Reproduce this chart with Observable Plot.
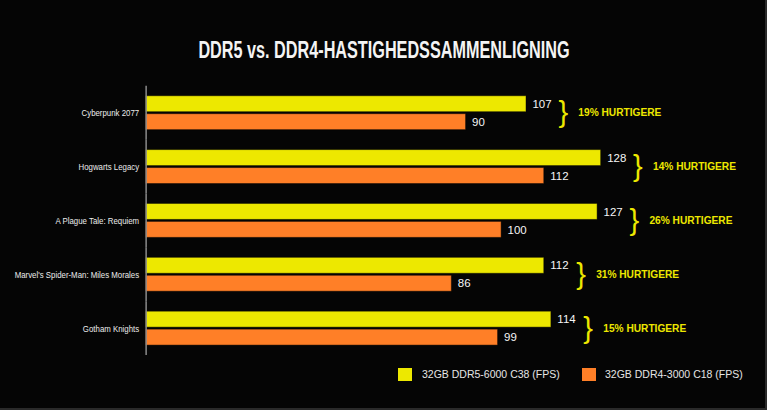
<!DOCTYPE html>
<html>
<head>
<meta charset="utf-8">
<script src="https://cdn.jsdelivr.net/npm/d3@7"></script>
<script src="https://cdn.jsdelivr.net/npm/@observablehq/plot@0.6"></script>
<style>
  html, body { margin: 0; padding: 0; background: #000; }
  #wrap { position: relative; width: 767px; height: 410px; background: #050505; overflow: hidden; box-sizing: border-box; border-right: 2px solid #2a2a2a; border-bottom: 2px solid #2a2a2a; }
  #title { position: absolute; left: 0; width: 767px; top: 39px; text-align: center; color: #f4f4f4;
           font: bold 23.5px/23px "Liberation Sans", Arial, sans-serif; }
  #title span { display: inline-block; transform: scaleX(0.69); transform-origin: center; }
  #chart { position: absolute; left: 0; top: 0; }
  #legend { position: absolute; top: 368px; left: 0; width: 767px; height: 16px;
            font: 10.5px/10.5px "Liberation Sans", Arial, sans-serif; color: #e6e6e6; }
  .sw { position: absolute; width: 14px; height: 13px; top: 0; }
  .lt { position: absolute; top: 1px; white-space: nowrap; }
  g[aria-label="fy-axis tick label"] { font: 9.6px "Liberation Sans", Arial, sans-serif; fill: #ececec; }
</style>
</head>
<body>
<div id="wrap">
  <div id="chart"></div>
  <div id="title"></div>
  <div id="legend"></div>
</div>
<script>
const games = ["Cyberpunk 2077", "Hogwarts Legacy", "A Plague Tale: Requiem", "Marvel's Spider-Man: Miles Morales", "Gotham Knights"];
const ddr5 = [107, 128, 127, 112, 114];
const ddr4 = [90, 112, 100, 86, 99];
const faster = [19, 14, 26, 31, 15];
const seriesNames = ["32GB DDR5-6000 C38 (FPS)", "32GB DDR4-3000 C18 (FPS)"];
const seriesColors = ["#ede800", "#ff7f27"];
const titleText = "DDR5 vs. DDR4-HASTIGHEDSSAMMENLIGNING";
const fasterWord = "HURTIGERE";

const rows = games.flatMap((g, i) => [
  {game: g, series: seriesNames[0], fps: ddr5[i]},
  {game: g, series: seriesNames[1], fps: ddr4[i]}
]);
const groups = games.map((g, i) => ({game: g, max: Math.max(ddr5[i], ddr4[i]), pct: faster[i]}));

const chart = Plot.plot({
  width: 767,
  height: 410,
  marginLeft: 146,
  marginRight: 122,
  marginTop: 84,
  marginBottom: 53,
  style: {background: "transparent", color: "#e0e0e0", fontFamily: "'Liberation Sans', Arial, sans-serif"},
  x: {domain: [0, 140], axis: null},
  y: {domain: seriesNames, axis: null, paddingInner: 0.1, paddingOuter: 0.5},
  fy: {domain: games, padding: 0, axis: "left", tickSize: 0, tickPadding: 7, label: null},
  color: {domain: seriesNames, range: seriesColors},
  marks: [
    Plot.barX(rows, {fy: "game", y: "series", x: "fps", fill: "series", stroke: "#000", strokeOpacity: 0.45, strokeWidth: 1}),
    Plot.ruleX([0], {stroke: "#8c8c8c", strokeWidth: 1.5}),
    Plot.text(rows, {fy: "game", y: "series", x: "fps", text: "fps", dx: 6, textAnchor: "start", fill: "#f6f6f6", fontSize: 11.5}),
    Plot.text(groups, {fy: "game", x: "max", text: () => "}", dx: 32, textAnchor: "start", fill: seriesColors[0], fontSize: 29, ariaLabel: "brace"}),
    Plot.text(groups, {fy: "game", x: "max", text: d => `${d.pct}% ${fasterWord}`, dx: 52, textAnchor: "start", fill: seriesColors[0], fontSize: 10.2, fontWeight: "bold"})
  ]
});
chart.querySelectorAll('g[aria-label="fy-axis tick label"] text').forEach(el => {
  el.setAttribute("transform", (el.getAttribute("transform") || "") + " scale(0.82,1)");
});
chart.querySelectorAll('g[aria-label="brace"] text').forEach(el => {
  el.setAttribute("transform", (el.getAttribute("transform") || "") + " scale(0.95,1.25)");
});
document.getElementById("chart").appendChild(chart);

const t = document.createElement("span");
t.textContent = titleText;
document.getElementById("title").appendChild(t);

const legend = document.getElementById("legend");
const legendX = [[398, 422], [582, 605]];
seriesNames.forEach((name, i) => {
  const sw = document.createElement("div");
  sw.className = "sw";
  sw.style.left = legendX[i][0] + "px";
  sw.style.background = seriesColors[i];
  legend.appendChild(sw);
  const lt = document.createElement("div");
  lt.className = "lt";
  lt.style.left = legendX[i][1] + "px";
  lt.textContent = name;
  legend.appendChild(lt);
});
</script>
</body>
</html>
